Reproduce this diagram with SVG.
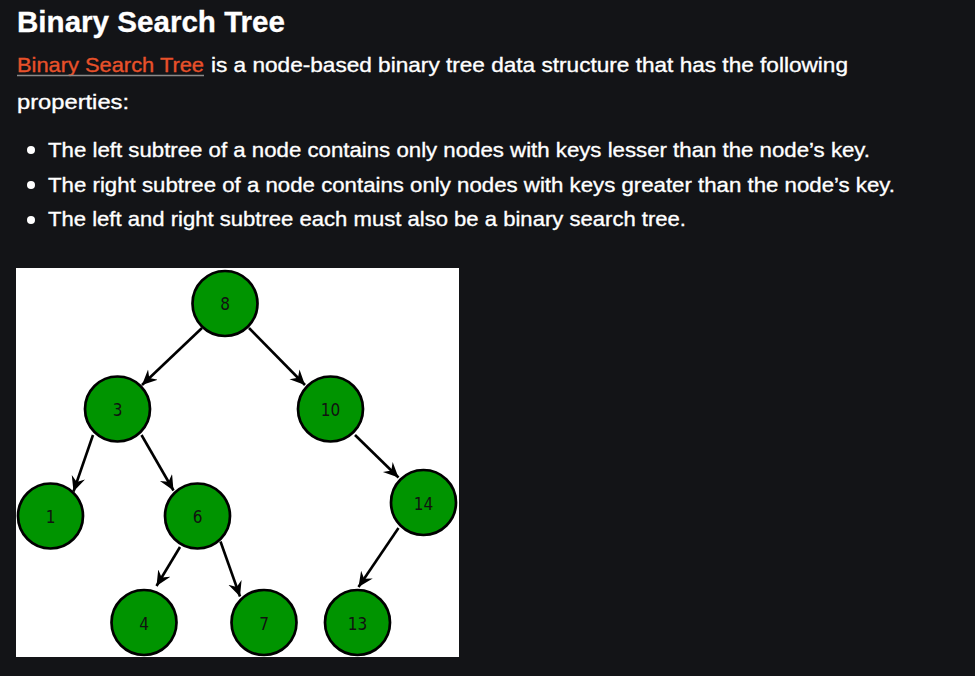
<svg xmlns="http://www.w3.org/2000/svg" width="975" height="676" viewBox="0 0 975 676">
<style>
.t{font-family:"Liberation Sans",Arial,sans-serif;fill:#ffffff;stroke:#ffffff;stroke-width:0.35}
.h{font-size:30px;font-weight:bold;stroke-width:0.3}
.b{font-size:21px}
.n circle{fill:#009400;stroke:#000;stroke-width:2.7}
.n text{font-family:"DejaVu Sans Condensed","Liberation Sans Narrow","Liberation Sans",sans-serif;font-stretch:condensed;font-size:17px;fill:#111;text-anchor:middle;dominant-baseline:central}
.e line{stroke:#000;stroke-width:2.6;marker-end:url(#ah)}
</style>
<defs>
<marker id="ah" markerUnits="userSpaceOnUse" markerWidth="18" markerHeight="16" refX="15" refY="7" orient="auto">
<path d="M0,0 L15,7 L0,14 L5,7 z" fill="#000"/>
</marker>
</defs>
<rect width="975" height="676" fill="#131417"/>
<text class="t h" x="17" y="32" textLength="268" lengthAdjust="spacingAndGlyphs">Binary Search Tree</text>
<text class="t b" x="17" y="72" textLength="187" lengthAdjust="spacingAndGlyphs" style="fill:#e8512a;stroke:#e8512a">Binary Search Tree</text>
<line x1="17" y1="75.5" x2="204" y2="75.5" stroke="#8a8a8a" stroke-width="1.5"/>
<text class="t b" x="211" y="72" textLength="637" lengthAdjust="spacingAndGlyphs">is a node-based binary tree data structure that has the following</text>
<text class="t b" x="17" y="109" textLength="112" lengthAdjust="spacingAndGlyphs">properties:</text>
<circle cx="31" cy="150" r="4" fill="#fff"/>
<circle cx="31" cy="185" r="4" fill="#fff"/>
<circle cx="31" cy="220" r="4" fill="#fff"/>
<text class="t b" x="48" y="157" textLength="822" lengthAdjust="spacingAndGlyphs">The left subtree of a node contains only nodes with keys lesser than the node’s key.</text>
<text class="t b" x="48" y="191.5" textLength="847" lengthAdjust="spacingAndGlyphs">The right subtree of a node contains only nodes with keys greater than the node’s key.</text>
<text class="t b" x="48" y="226" textLength="638" lengthAdjust="spacingAndGlyphs">The left and right subtree each must also be a binary search tree.</text>
<rect x="16" y="268" width="443" height="389" fill="#ffffff"/>
<g id="edges" class="e">
<line x1="202" y1="328" x2="142" y2="385"/>
<line x1="249" y1="328" x2="305" y2="385"/>
<line x1="93" y1="435" x2="73.5" y2="491.5"/>
<line x1="141.5" y1="435" x2="173.5" y2="490.5"/>
<line x1="355" y1="435" x2="398.5" y2="477.5"/>
<line x1="180" y1="547" x2="156.5" y2="586"/>
<line x1="220.5" y1="541.5" x2="240" y2="596.5"/>
<line x1="398.5" y1="528" x2="358.5" y2="587"/>
</g>
<g id="n8" class="n"><circle cx="225" cy="303.5" r="32.5"/><text x="225" y="304">8</text></g>
<g id="n3" class="n"><circle cx="117.5" cy="409" r="32.5"/><text x="117.5" y="410">3</text></g>
<g id="n10" class="n"><circle cx="330.5" cy="409" r="32.5"/><text x="330.5" y="410">10</text></g>
<g id="n1" class="n"><circle cx="50.5" cy="516" r="32.5"/><text x="50.5" y="517">1</text></g>
<g id="n6" class="n"><circle cx="197.5" cy="516" r="32.5"/><text x="197.5" y="517">6</text></g>
<g id="n14" class="n"><circle cx="423.5" cy="502.5" r="32.5"/><text x="423.5" y="503.5">14</text></g>
<g id="n4" class="n"><circle cx="144" cy="622.5" r="32.5"/><text x="144" y="623.5">4</text></g>
<g id="n7" class="n"><circle cx="264" cy="622.5" r="32.5"/><text x="264" y="623.5">7</text></g>
<g id="n13" class="n"><circle cx="357.5" cy="622.5" r="32.5"/><text x="357.5" y="623.5">13</text></g>
</svg>
